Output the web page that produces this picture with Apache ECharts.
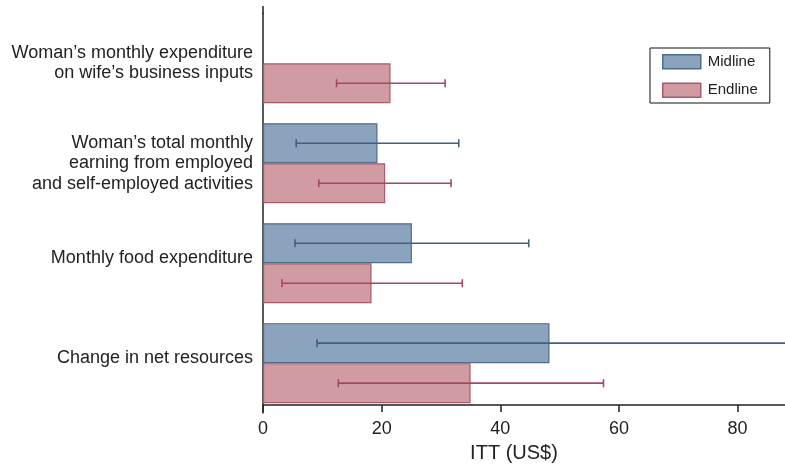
<!DOCTYPE html>
<html>
<head>
<meta charset="utf-8">
<script src="https://cdn.jsdelivr.net/npm/echarts@6/dist/echarts.min.js"></script>
<style>html,body{margin:0;padding:0;background:#fff}#c{width:785px;height:468px}</style>
</head>
<body>
<div id="c"></div>
<script>
const categories = [
  "Woman’s monthly expenditure\non wife’s business inputs",
  "Woman’s total monthly\nearning from employed\nand self-employed activities",
  "Monthly food expenditure",
  "Change in net resources"
];
const midlineITT = [null, 19.3, 25.1, 48.3];
const midlineLow = [null, 5.6, 5.4, 9.1];
const midlineHigh = [null, 33.0, 44.8, 89.0];
const endlineITT = [21.5, 20.6, 18.3, 35.0];
const endlineLow = [12.4, 9.4, 3.2, 12.7];
const endlineHigh = [30.7, 31.7, 33.6, 57.4];
const xTicks = [0, 20, 40, 60, 80];

const FONT = "Liberation Sans, Arial, Helvetica, sans-serif";
const midFill = '#8ca3bd', midBorder = '#4e6d8d', midErr = '#3f5f84';
const endFill = '#d09ca2', endBorder = '#a65a6a', endErr = '#a24a5d';

function ciData(lo, hi) {
  const out = [];
  lo.forEach((v, i) => { if (v !== null) out.push([i, v, hi[i]]); });
  return out;
}
function ciRender(offset, color) {
  return function (params, api) {
    const cat = api.value(0);
    const a = api.coord([api.value(1), cat]);
    const b = api.coord([api.value(2), cat]);
    const y = a[1] + offset;
    const cap = 4;
    const style = { stroke: color, lineWidth: 1.6 };
    return {
      type: 'group',
      children: [
        { type: 'line', shape: { x1: a[0], y1: y, x2: b[0], y2: y }, style },
        { type: 'line', shape: { x1: a[0], y1: y - cap, x2: a[0], y2: y + cap }, style },
        { type: 'line', shape: { x1: b[0], y1: y - cap, x2: b[0], y2: y + cap }, style }
      ]
    };
  };
}

// extra blank line appended below some labels to lift them to where the reference puts them
const labelLift = ['', '', 'sp', 'sp'];
function labelFormatter(value, index) {
  const txt = value.split('\n').map(l => '{t|' + l + '}').join('\n');
  return labelLift[index] ? txt + '\n{' + labelLift[index] + '| }' : txt;
}

const chart = echarts.init(document.getElementById('c'), null, { renderer: 'canvas' });
chart.setOption({
  animation: false,
  textStyle: { fontFamily: FONT },
  grid: { left: 263, right: 0, top: 13.3, bottom: 52, containLabel: false },
  legend: {
    data: ['Midline', 'Endline'],
    orient: 'vertical',
    left: 650, top: 48,
    padding: [6, 12, 5, 12],
    itemGap: 13,
    itemWidth: 38, itemHeight: 14,
    itemStyle: { borderWidth: 1.5 },
    borderColor: '#111', borderWidth: 1, borderRadius: 0,
    icon: 'rect',
    textStyle: { fontSize: 15, color: '#222', fontFamily: FONT, padding: [0, 0, 0, 2] }
  },
  xAxis: {
    type: 'value', min: 0, max: 88, interval: 20,
    offset: -8,
    name: 'ITT (US$)', nameLocation: 'middle', nameGap: 30,
    nameTextStyle: { fontSize: 20, color: '#222', fontFamily: FONT, padding: [0, 20, 0, 0] },
    axisLine: { show: true, lineStyle: { color: '#222', width: 1.5 } },
    axisTick: { show: true, length: 7, lineStyle: { color: '#222', width: 1.5 } },
    axisLabel: { fontSize: 18, color: '#222', margin: 15, showMaxLabel: false,
      formatter: v => xTicks.indexOf(v) >= 0 ? String(v) : '' },
    splitLine: { show: false }
  },
  yAxis: {
    type: 'category', inverse: true,
    data: categories,
    axisLine: { show: true, lineStyle: { color: '#222', width: 1.5 } },
    axisTick: { show: false },
    axisLabel: {
      fontSize: 18, color: '#222', margin: 10, align: 'right',
      formatter: labelFormatter,
      rich: {
        t: { fontSize: 18, lineHeight: 20.5, color: '#222', fontFamily: FONT, align: 'right' },
        sp: { fontSize: 1, lineHeight: 11 }
      }
    }
  },
  graphic: [{ type: 'line', shape: { x1: 263, y1: 6, x2: 263, y2: 14 }, style: { stroke: '#222', lineWidth: 1.5 } }],
  series: [
    { name: 'Midline', type: 'bar', data: midlineITT, barWidth: 40, barGap: '0%',
      itemStyle: { color: midFill, borderColor: midBorder, borderWidth: 1.2 } },
    { name: 'Endline', type: 'bar', data: endlineITT, barWidth: 40, barGap: '0%',
      itemStyle: { color: endFill, borderColor: endBorder, borderWidth: 1.2 } },
    { name: 'Midline CI', type: 'custom', clip: true, encode: { x: [1, 2], y: 0 },
      data: ciData(midlineLow, midlineHigh), renderItem: ciRender(-20, midErr), z: 5 },
    { name: 'Endline CI', type: 'custom', clip: true, encode: { x: [1, 2], y: 0 },
      data: ciData(endlineLow, endlineHigh), renderItem: ciRender(20, endErr), z: 5 }
  ]
});
</script>
</body>
</html>
